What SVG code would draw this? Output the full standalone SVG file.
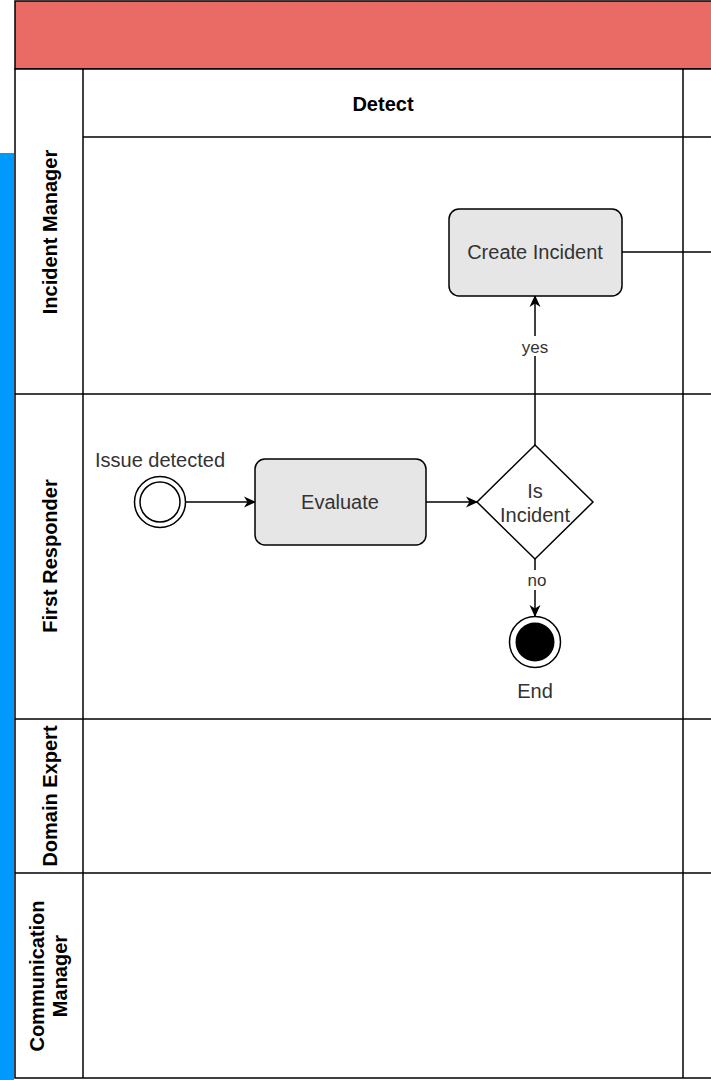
<svg xmlns="http://www.w3.org/2000/svg" width="711" height="1080" viewBox="0 0 711 1080">
<defs>
<style>
.ln{stroke:#000;stroke-width:1.5;fill:none}
.lane{font-family:"Liberation Sans",Arial,sans-serif;font-weight:bold;font-size:20px;fill:#000;text-anchor:middle}
.node{fill:#e6e6e6;stroke:#000;stroke-width:1.5}
.t{font-family:"Liberation Sans",Arial,sans-serif;font-size:20px;fill:#333;text-anchor:middle}
.el{font-family:"Liberation Sans",Arial,sans-serif;font-size:17px;fill:#333;text-anchor:middle}
.edge{stroke:#000;stroke-width:1.5;fill:none}
</style>
<marker id="arr" viewBox="0 0 12 12" refX="11" refY="6" markerWidth="12" markerHeight="12" markerUnits="userSpaceOnUse" orient="auto">
<path d="M0,0.5 L12,6 L0,11.5 L3.5,6 Z" fill="#000"/>
</marker>
</defs>
<rect x="0" y="0" width="711" height="1080" fill="#fff"/>
<rect x="0" y="153" width="14" height="927" fill="#0099ff"/>
<g id="pool">
<rect x="15" y="1" width="700" height="68" fill="#ea6b66" stroke="#000" stroke-width="1.5"/>
<rect x="15" y="69" width="700" height="1009" fill="#fff" stroke="#000" stroke-width="1.5"/>
<line class="ln" x1="83" y1="69" x2="83" y2="1078"/>
<line class="ln" x1="683" y1="69" x2="683" y2="1078"/>
<line class="ln" x1="83" y1="137" x2="711" y2="137"/>
<line class="ln" x1="15" y1="394" x2="711" y2="394"/>
<line class="ln" x1="15" y1="719" x2="711" y2="719"/>
<line class="ln" x1="15" y1="873" x2="711" y2="873"/>
<text class="lane" x="383" y="111">Detect</text>
</g>
<g id="lane-incident-manager"><text class="lane" transform="translate(57,232) rotate(-90)">Incident Manager</text></g>
<g id="lane-first-responder"><text class="lane" transform="translate(57,556) rotate(-90)">First Responder</text></g>
<g id="lane-domain-expert"><text class="lane" transform="translate(57,796) rotate(-90)">Domain Expert</text></g>
<g id="lane-communication-manager"><text class="lane" transform="translate(44,976) rotate(-90)"><tspan x="0" y="0">Communication</tspan><tspan x="0" y="23">Manager</tspan></text></g>
<g id="connectors">
<line class="edge" x1="185.5" y1="502" x2="255" y2="502" marker-end="url(#arr)"/>
<line class="edge" x1="426" y1="502" x2="477" y2="502" marker-end="url(#arr)"/>
<line class="edge" x1="535" y1="445" x2="535" y2="296" marker-end="url(#arr)"/>
<line class="edge" x1="535" y1="559" x2="535" y2="616" marker-end="url(#arr)"/>
<line class="edge" x1="622" y1="252" x2="711" y2="252"/>
<rect x="518" y="336" width="34" height="20" fill="#fff"/>
<text class="el" x="535" y="353">yes</text>
<rect x="524" y="570" width="22" height="20" fill="#fff"/>
<text class="el" x="537" y="586">no</text>
</g>
<g id="start">
<circle cx="160" cy="502" r="25.5" fill="#fff" stroke="#000" stroke-width="1.5"/>
<circle cx="160" cy="502" r="20" fill="#fff" stroke="#000" stroke-width="1.5"/>
<text class="t" x="160" y="467">Issue detected</text>
</g>
<g id="evaluate">
<rect class="node" x="255" y="459" width="171" height="86" rx="10"/>
<text class="t" x="340" y="509">Evaluate</text>
</g>
<g id="is-incident">
<polygon points="535,445 593,502 535,559 477,502" fill="#fff" stroke="#000" stroke-width="1.5"/>
<text class="t" x="535" y="498">Is</text>
<text class="t" x="535" y="522">Incident</text>
</g>
<g id="create-incident">
<rect class="node" x="449" y="209" width="173" height="87" rx="10"/>
<text class="t" x="535" y="259">Create Incident</text>
</g>
<g id="end">
<circle cx="535" cy="642" r="25.5" fill="#fff" stroke="#000" stroke-width="1.5"/>
<circle cx="535" cy="642" r="19.5" fill="#000"/>
<text class="t" x="535" y="698">End</text>
</g>
</svg>
